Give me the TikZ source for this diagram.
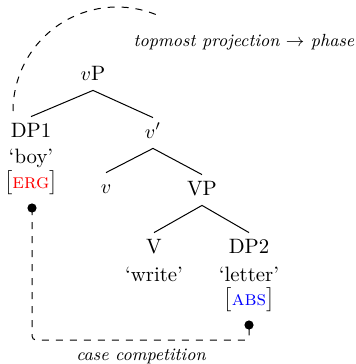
\documentclass[tikz,border=0pt]{standalone}
\usepackage{xcolor}
\begin{document}
\begin{tikzpicture}[x=0.5pt,y=-0.5pt,
  font=\fontsize{10.4}{12.5}\selectfont,
  cat/.style={inner sep=3pt, text height=7pt, text depth=2pt},
  gl/.style={inner sep=0pt},
  edge/.style={line width=0.5pt},
  dsh/.style={dash pattern=on 3.5pt off 3.5pt, line width=0.5pt},
  dotnode/.style={circle, fill=black, inner sep=0pt, minimum size=4.6pt},
  lab/.style={font=\fontsize{8.8}{10.5}\selectfont\itshape, inner sep=0pt}]
\useasboundingbox (0,0) rectangle (356,364);
% tree
\node[cat] (vP) at (93,75) {$v$P};
\node[cat] (DP1) at (31,132) {DP1};
\node[cat] (vbar) at (153,133) {$v'$};
\node[cat] (v) at (106,188) {$v$};
\node[cat] (VP) at (202,190) {VP};
\node[cat] (V) at (154,248) {V};
\node[cat] (DP2) at (249,248) {DP2};
\node[gl] (boy) at (31,158) {`boy'};
\node[gl] (erg) at (31,183) {$\big[$\textcolor{red}{\textsc{erg}}$\big]$};
\node[gl] (write) at (154,274) {`write'};
\node[gl] (letter) at (249,274) {`letter'};
\node[gl] (abs) at (249,300) {$\big[$\textcolor{blue}{\textsc{abs}}$\big]$};
\draw[edge] (vP.south) -- (DP1.north);
\draw[edge] (vP.south) -- (vbar.north);
\draw[edge] (vbar.south) -- (v.north);
\draw[edge] (vbar.south) -- (VP.north);
\draw[edge] (VP.south) -- (V.north);
\draw[edge] (VP.south) -- (DP2.north);
% dots and case competition
\node[dotnode] (d1) at (32,208) {};
\node[dotnode] (d2) at (249,325) {};
\draw[dsh, rounded corners=2pt] (d1.center) -- ++(0,132) -| (d2.center);
\node[lab] (cc) at (141,356) {case competition};
% phase arc
\node[lab] (tp) at (244,42) {topmost projection $\rightarrow$ phase};
\coordinate (as) at (13,111);
\draw[dsh] (as) arc[start angle=180, end angle=292, radius=104];
\end{tikzpicture}
\end{document}
